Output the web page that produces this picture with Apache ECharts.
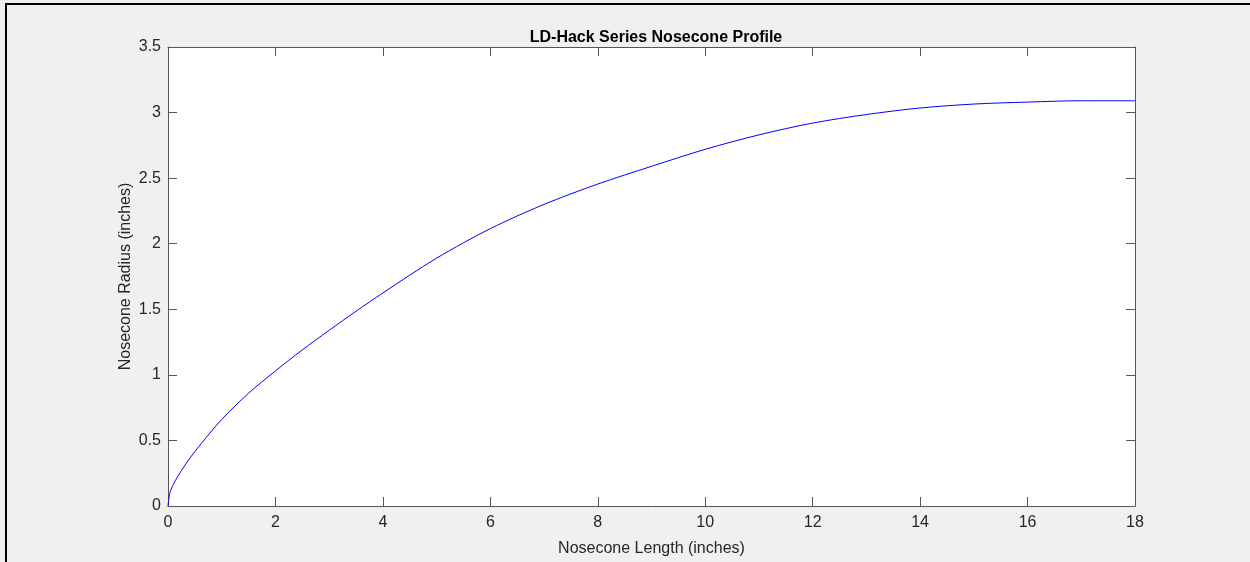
<!DOCTYPE html>
<html>
<head>
<meta charset="utf-8">
<script src="https://cdn.jsdelivr.net/npm/echarts@6/dist/echarts.min.js"></script>
<style>
  html, body { margin: 0; padding: 0; background: #f0f0f0; }
  #chart { width: 1250px; height: 562px; }
</style>
</head>
<body>
<div id="chart"></div>
<script>
// profile points
var lengthIn = [0, 0.05, 0.25, 0.5, 1, 1.5, 2, 2.5, 3, 3.5, 4, 5, 6, 7, 8, 9, 10, 11, 12, 13, 14, 15, 16, 17, 18];
var radiusIn = [0, 0.12, 0.27, 0.415, 0.66, 0.86, 1.03, 1.19, 1.34, 1.485, 1.625, 1.89, 2.115, 2.30, 2.455, 2.59, 2.72, 2.83, 2.92, 2.985, 3.035, 3.065, 3.08, 3.09, 3.09];

var xTicks = [0, 2, 4, 6, 8, 10, 12, 14, 16, 18];
var yTicks = [0, 0.5, 1, 1.5, 2, 2.5, 3, 3.5];

var font = 'Liberation Sans, Arial, Helvetica, sans-serif';
var axisColor = '#555555';
var textColor = '#262626';

var points = lengthIn.map(function (x, i) { return [x, radiusIn[i]]; });

var myChart = echarts.init(document.getElementById('chart'));

// one axis builder, used for both the labelled and the "box" sides
function axis(pos, ticks, labelled) {
    var a = {
        type: 'value',
        position: pos,
        min: ticks[0],
        max: ticks[ticks.length - 1],
        interval: ticks[1] - ticks[0],
        axisLine: { show: true, onZero: false, lineStyle: { color: axisColor, width: 1 } },
        axisTick: { show: true, inside: true, length: 9, lineStyle: { color: axisColor } },
        splitLine: { show: false },
        axisLabel: {
            show: labelled,
            color: textColor,
            fontFamily: font,
            fontSize: 16,
            margin: (pos === 'bottom') ? 9 : 7
        }
    };
    return a;
}

var xBottom = axis('bottom', xTicks, true);
xBottom.name = 'Nosecone Length (inches)';
xBottom.nameLocation = 'middle';
xBottom.nameGap = 35;
xBottom.nameMoveOverlap = false;
xBottom.nameTextStyle = { color: textColor, fontFamily: font, fontSize: 16 };

var yLeft = axis('left', yTicks, true);
yLeft.name = 'Nosecone Radius (inches)';
yLeft.nameLocation = 'middle';
yLeft.nameGap = 34;
yLeft.nameMoveOverlap = false;
yLeft.nameTextStyle = { color: textColor, fontFamily: font, fontSize: 16 };

myChart.setOption({
    backgroundColor: '#f0f0f0',
    animation: false,
    title: {
        text: 'LD-Hack Series Nosecone Profile',
        left: 651,
        top: 25,
        textAlign: 'center',
        textStyle: { color: '#000', fontFamily: font, fontSize: 16, fontWeight: 'bold' }
    },
    grid: {
        left: 168,
        top: 47,
        right: 115,
        bottom: 56,
        show: true,
        backgroundColor: '#ffffff',
        borderWidth: 0
    },
    xAxis: [xBottom, axis('top', xTicks, false)],
    yAxis: [yLeft, axis('right', yTicks, false)],
    series: [
        {
            type: 'line',
            data: points,
            smooth: 0.3,
            showSymbol: false,
            lineStyle: { color: '#0000ff', width: 1 }
        }
    ],
    graphic: [
        {
            type: 'polyline',
            silent: true,
            shape: { points: [[6, 562], [6, 4], [1250, 4]] },
            style: { stroke: '#000', lineWidth: 2, fill: null }
        }
    ]
});
</script>
</body>
</html>
